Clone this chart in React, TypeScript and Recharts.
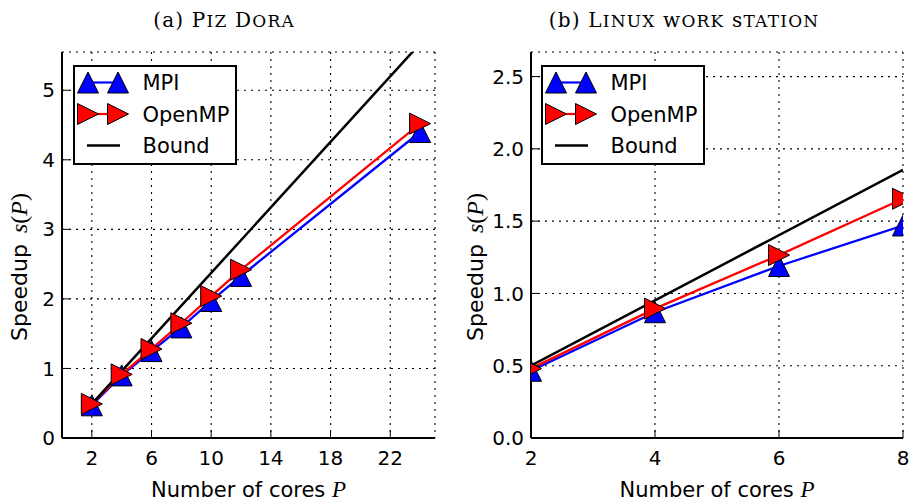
import React from "react";
import { LineChart, Line, XAxis, YAxis, CartesianGrid, Legend, Label } from "recharts";

// (a) Piz Dora
const doraCores = [2, 4, 6, 8, 10, 12, 24];
const doraMpi = [0.47, 0.9, 1.25, 1.59, 1.97, 2.33, 4.4];
const doraOpenmp = [0.49, 0.915, 1.28, 1.65, 2.04, 2.42, 4.52];
const doraBoundCores = [2, 24];
const doraBound = [0.49, 5.67];
const doraXTicks = [2, 6, 10, 14, 18, 22];
const doraYTicks = [0, 1, 2, 3, 4, 5];

// (b) Linux work station
const linuxCores = [2, 4, 6, 8];
const linuxMpi = [0.465, 0.87, 1.19, 1.47];
const linuxOpenmp = [0.48, 0.895, 1.265, 1.655];
const linuxBoundCores = [2, 8];
const linuxBound = [0.5, 1.855];
const linuxXTicks = [2, 4, 6, 8];
const linuxYTicks = [0, 0.5, 1, 1.5, 2, 2.5];

const seriesNames = ["MPI", "OpenMP", "Bound"];

const SANS = "DejaVu Sans";
const SERIF = "DejaVu Serif";
const MATH = "Liberation Serif";
const MARKER = 10.5;

function TriangleUp({ cx, cy, fill }: any) {
  if (cx == null || cy == null) return <g />;
  const r = MARKER;
  return (
    <path
      d={`M${cx},${cy - r}L${cx - r},${cy + r}L${cx + r},${cy + r}Z`}
      fill={fill}
      stroke="#000"
      strokeWidth={1}
    />
  );
}

function TriangleRight({ cx, cy, fill }: any) {
  if (cx == null || cy == null) return <g />;
  const r = MARKER;
  return (
    <path
      d={`M${cx + r},${cy}L${cx - r},${cy - r}L${cx - r},${cy + r}Z`}
      fill={fill}
      stroke="#000"
      strokeWidth={1}
    />
  );
}

// legend box drawn like the matplotlib one (two markers joined by the line)
function SpeedupLegend({ payload }: any) {
  const rows = [...(payload || [])].sort(
    (a: any, b: any) => seriesNames.indexOf(a.value) - seriesNames.indexOf(b.value)
  );
  return (
    <svg width={164} height={100} style={{ display: "block" }}>
      <rect x={1} y={1} width={162} height={98} fill="#fff" stroke="#000" strokeWidth={2} />
      {rows.map((entry: any, i: number) => {
        const cy = 17.5 + i * 31.5;
        return (
          <g key={entry.value}>
            {entry.value === "Bound" ? (
              <line x1={14} x2={47} y1={cy} y2={cy} stroke="#000" strokeWidth={2.5} />
            ) : (
              <line x1={15} x2={45} y1={cy} y2={cy} stroke={entry.color} strokeWidth={2.2} />
            )}
            {entry.value === "MPI" && (
              <>
                <TriangleUp cx={15} cy={cy} fill="#0000ff" />
                <TriangleUp cx={45} cy={cy} fill="#0000ff" />
              </>
            )}
            {entry.value === "OpenMP" && (
              <>
                <TriangleRight cx={15} cy={cy} fill="#ff0000" />
                <TriangleRight cx={45} cy={cy} fill="#ff0000" />
              </>
            )}
            <text x={69.5} y={cy + 7.5} fontSize={21} fontFamily={SANS} fill="#000">
              {entry.value}
            </text>
          </g>
        );
      })}
    </svg>
  );
}

function XLabel({ viewBox }: any) {
  const vb = viewBox || { x: 0, y: 438, width: 456, height: 66 };
  const x = vb.x + vb.width / 2;
  const y = vb.y + 59;
  return (
    <text x={x} y={y} textAnchor="middle" fontSize={21} fontFamily={SANS} fill="#000">
      {"Number of cores "}
      <tspan fontFamily={MATH} fontStyle="italic" fontSize={23}>P</tspan>
    </text>
  );
}

function YLabel({ viewBox }: any) {
  const vb = viewBox || { x: 0, y: 52, width: 62, height: 386 };
  const x = vb.x + 27;
  const y = vb.y + vb.height / 2 + 22;
  return (
    <text
      x={x}
      y={y}
      transform={`rotate(-90 ${x} ${y})`}
      textAnchor="middle"
      fontSize={22}
      fontFamily={SANS}
      fill="#000"
    >
      {"Speedup "}
      <tspan dx={4} fontFamily={MATH} fontStyle="italic" fontSize={24}>s</tspan>
      <tspan fontFamily={MATH} fontSize={24}>(</tspan>
      <tspan fontFamily={MATH} fontStyle="italic" fontSize={24}>P</tspan>
      <tspan fontFamily={MATH} fontSize={24}>)</tspan>
    </text>
  );
}

function SmallCaps({ text }: { text: string }) {
  // first letter of each word full size, rest as small capitals
  return (
    <>
      {text.split(" ").map((w, i) => (
        <React.Fragment key={i}>
          {i > 0 ? " " : ""}
          <span>{w[0]}</span>
          <span style={{ fontSize: 17, textTransform: "uppercase" }}>{w.slice(1)}</span>
        </React.Fragment>
      ))}
    </>
  );
}

const noTick = () => <g />;
const axisLine = { stroke: "#000", strokeWidth: 2 };
const tickLine = { stroke: "#000", strokeWidth: 1 };
const tickStyle = { fill: "#000", fontSize: 20, fontFamily: SANS };

function SpeedupPanel({
  left,
  tag,
  name,
  titleWidth,
  cores,
  mpi,
  openmp,
  boundCores,
  bound,
  xDomain,
  yDomain,
  xTicks,
  yTicks,
  yFormat,
  yAxisWidth,
  rightMargin,
  legendLeft,
}: any) {
  const mpiData = cores.map((p: number, i: number) => ({ p, s: mpi[i] }));
  const openmpData = cores.map((p: number, i: number) => ({ p, s: openmp[i] }));
  const boundData = boundCores.map((p: number, i: number) => ({ p, s: bound[i] }));

  return (
    <div style={{ position: "absolute", left, top: 0, width: 456, height: 504 }}>
      <div
        style={{
          position: "absolute",
          left: 0,
          top: 10,
          width: titleWidth,
          textAlign: "center",
          fontFamily: SERIF,
          fontSize: 20,
          lineHeight: "20px",
          letterSpacing: 1.2,
          color: "#000",
          whiteSpace: "nowrap",
        }}
      >
        {tag} <SmallCaps text={name} />
      </div>
      <LineChart width={456} height={504} margin={{ top: 52, right: rightMargin, bottom: 0, left: 0 }}>
        <CartesianGrid stroke="#000" strokeDasharray="2 5" strokeWidth={1.1} />
        <Line
          data={mpiData}
          dataKey="s"
          name="MPI"
          stroke="#0000ff"
          strokeWidth={2.3}
          isAnimationActive={false}
          activeDot={false}
          dot={(d: any) => <TriangleUp key={`mpi-${d.index}`} cx={d.cx} cy={d.cy} fill="#0000ff" />}
        />
        <Line
          data={openmpData}
          dataKey="s"
          name="OpenMP"
          stroke="#ff0000"
          strokeWidth={2.3}
          isAnimationActive={false}
          activeDot={false}
          dot={(d: any) => <TriangleRight key={`omp-${d.index}`} cx={d.cx} cy={d.cy} fill="#ff0000" />}
        />
        <Line
          data={boundData}
          dataKey="s"
          name="Bound"
          stroke="#000"
          strokeWidth={2.5}
          isAnimationActive={false}
          activeDot={false}
          dot={false}
        />
        <XAxis
          type="number"
          dataKey="p"
          domain={xDomain}
          ticks={xTicks}
          allowDataOverflow
          height={66}
          tickSize={-8}
          tickMargin={21}
          axisLine={axisLine}
          tickLine={tickLine}
          tick={tickStyle}
        >
          <Label content={<XLabel />} />
        </XAxis>
        <XAxis
          xAxisId="top"
          orientation="top"
          type="number"
          domain={xDomain}
          ticks={xTicks}
          allowDataOverflow
          height={0}
          tickSize={-8}
          axisLine={axisLine}
          tickLine={tickLine}
          tick={noTick}
        />
        <YAxis
          type="number"
          domain={yDomain}
          ticks={yTicks}
          allowDataOverflow
          width={yAxisWidth}
          tickSize={-8}
          tickMargin={15}
          tickFormatter={yFormat}
          axisLine={axisLine}
          tickLine={tickLine}
          tick={tickStyle}
        >
          <Label content={<YLabel />} />
        </YAxis>
        <YAxis
          yAxisId="right"
          orientation="right"
          type="number"
          domain={yDomain}
          ticks={yTicks}
          allowDataOverflow
          width={0}
          tickSize={-8}
          axisLine={axisLine}
          tickLine={tickLine}
          tick={noTick}
        />
        <Legend
          layout="vertical"
          align="center"
          verticalAlign="middle"
          width={164}
          height={100}
          wrapperStyle={{ left: legendLeft, top: 64.5, width: 164, height: 100 }}
          content={<SpeedupLegend />}
        />
      </LineChart>
    </div>
  );
}

export default function App() {
  return (
    <div style={{ position: "fixed", left: 0, top: 0, width: 912, height: 504, background: "#fff", overflow: "hidden" }}>
      <SpeedupPanel
        left={0}
        tag="(a)"
        name="Piz Dora"
        titleWidth={448}
        cores={doraCores}
        mpi={doraMpi}
        openmp={doraOpenmp}
        boundCores={doraBoundCores}
        bound={doraBound}
        xDomain={[0, 25]}
        yDomain={[0, 5.55]}
        xTicks={doraXTicks}
        yTicks={doraYTicks}
        yFormat={(v: number) => String(v)}
        yAxisWidth={62}
        rightMargin={21}
        legendLeft={72.5}
      />
      <SpeedupPanel
        left={456}
        tag="(b)"
        name="Linux work station"
        titleWidth={456}
        cores={linuxCores}
        mpi={linuxMpi}
        openmp={linuxOpenmp}
        boundCores={linuxBoundCores}
        bound={linuxBound}
        xDomain={[2, 8]}
        yDomain={[0, 2.67]}
        xTicks={linuxXTicks}
        yTicks={linuxYTicks}
        yFormat={(v: number) => v.toFixed(1)}
        yAxisWidth={75}
        rightMargin={9}
        legendLeft={84.5}
      />
    </div>
  );
}
